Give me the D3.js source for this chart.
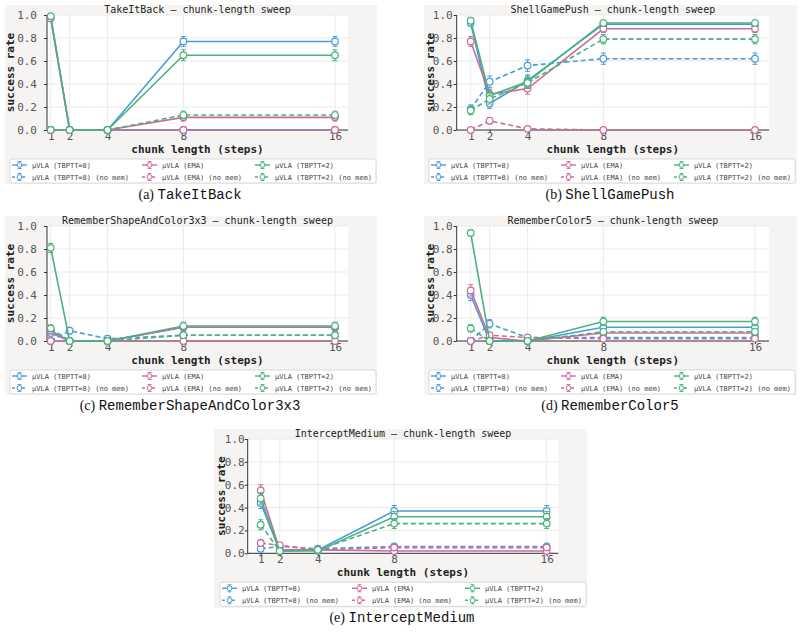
<!DOCTYPE html>
<html><head><meta charset="utf-8">
<title>chunk-length sweep</title>
<script src="https://cdn.jsdelivr.net/npm/d3@7/dist/d3.min.js"></script>
<style>
  body { margin: 0; background: #fff; }
  svg { display: block; }
  .mono { font-family: "DejaVu Sans Mono", monospace; }
</style>
</head>
<body>
<svg id="fig" width="802" height="633"></svg>
<script>
// data: success rate per chunk length, series order = SERIES
var CHUNK = [1, 2, 4, 8, 16];
var SERIES = ["\u03bcVLA (TBPTT=8)", "\u03bcVLA (TBPTT=8) (no mem)", "\u03bcVLA (EMA)",
              "\u03bcVLA (EMA) (no mem)", "\u03bcVLA (TBPTT=2)", "\u03bcVLA (TBPTT=2) (no mem)"];
var COLORS = ["#4a9bdc", "#4a9bdc", "#cc6a9e", "#cc6a9e", "#4bb27c", "#4bb27c"];
var DASHED = [false, true, false, true, false, true];
var N_EPISODES = 100; // error bars = binomial standard error

var takeItBack = [
  [0.98, 0.00, 0.00, 0.77, 0.77],
  [0.00, 0.00, 0.00, 0.00, 0.00],
  [0.97, 0.00, 0.00, 0.11, 0.11],
  [0.00, 0.00, 0.00, 0.00, 0.00],
  [0.99, 0.00, 0.00, 0.65, 0.65],
  [0.00, 0.00, 0.00, 0.13, 0.13]
];
var shellGamePush = [
  [0.93, 0.23, 0.43, 0.92, 0.92],
  [0.18, 0.42, 0.56, 0.62, 0.62],
  [0.77, 0.31, 0.36, 0.88, 0.88],
  [0.00, 0.08, 0.01, 0.00, 0.00],
  [0.95, 0.30, 0.42, 0.93, 0.93],
  [0.17, 0.27, 0.41, 0.79, 0.79]
];
var rememberShapeAndColor3x3 = [
  [0.07, 0.00, 0.00, 0.12, 0.12],
  [0.00, 0.09, 0.02, 0.05, 0.05],
  [0.09, 0.00, 0.00, 0.12, 0.12],
  [0.00, 0.00, 0.00, 0.00, 0.00],
  [0.81, 0.00, 0.00, 0.13, 0.13],
  [0.11, 0.00, 0.00, 0.05, 0.05]
];
var rememberColor5 = [
  [0.40, 0.00, 0.00, 0.12, 0.12],
  [0.00, 0.15, 0.03, 0.03, 0.03],
  [0.44, 0.03, 0.00, 0.07, 0.07],
  [0.00, 0.05, 0.03, 0.02, 0.02],
  [0.94, 0.00, 0.00, 0.17, 0.17],
  [0.11, 0.00, 0.00, 0.08, 0.08]
];
var interceptMedium = [
  [0.44, 0.02, 0.03, 0.37, 0.37],
  [0.04, 0.06, 0.04, 0.06, 0.06],
  [0.55, 0.03, 0.03, 0.02, 0.02],
  [0.09, 0.07, 0.03, 0.05, 0.05],
  [0.48, 0.02, 0.02, 0.32, 0.32],
  [0.25, 0.02, 0.03, 0.26, 0.26]
];
var Y_TICKS = [0, 0.2, 0.4, 0.6, 0.8, 1.0];

// panel layout (pixels in the figure)
var panels = [
  {letter: "a", task: "TakeItBack", data: takeItBack,
   bg: [5, 5, 372, 179], l: 47, r: 348, t: 15, b: 130, x1: 50.7, x16: 335,
   tickGap: 10, ylabX: 10, legX: 10, capX: 190},
  {letter: "b", task: "ShellGamePush", data: shellGamePush,
   bg: [424, 5, 373, 179], l: 456.7, r: 769, t: 15, b: 130, x1: 470.7, x16: 755,
   tickGap: 4, ylabX: 430, legX: 429, capX: 610},
  {letter: "c", task: "RememberShapeAndColor3x3", data: rememberShapeAndColor3x3,
   bg: [5, 216, 372, 179], l: 47, r: 348, t: 226, b: 341, x1: 50.7, x16: 335,
   tickGap: 10, ylabX: 10, legX: 10, capX: 190},
  {letter: "d", task: "RememberColor5", data: rememberColor5,
   bg: [424, 216, 373, 179], l: 456.7, r: 769, t: 226, b: 341, x1: 470.7, x16: 755,
   tickGap: 4, ylabX: 430, legX: 429, capX: 610},
  {letter: "e", task: "InterceptMedium", data: interceptMedium,
   bg: [214, 429, 373, 179], l: 247.7, r: 558.3, t: 439, b: 553.3, x1: 260.7, x16: 546.7,
   tickGap: 3, ylabX: 220.5, legX: 220, capX: 402}
];

var svg = d3.select("#fig");
svg.append("rect").attr("width", 802).attr("height", 633).attr("fill", "#fff");

function stderr(p) { return Math.sqrt(p * (1 - p) / N_EPISODES); }

panels.forEach(function(P) {
  var g = svg.append("g");
  g.append("rect")
    .attr("x", P.bg[0]).attr("y", P.bg[1]).attr("width", P.bg[2]).attr("height", P.bg[3])
    .attr("fill", "#f5f4f2");
  g.append("rect")
    .attr("x", P.l).attr("y", P.t).attr("width", P.r - P.l).attr("height", P.b - P.t)
    .attr("fill", "#fff");

  // linear x scale, domain derived from where ticks 1 and 16 land
  var unit = (P.x16 - P.x1) / 15;
  var x = d3.scaleLinear()
    .domain([1 - (P.x1 - P.l) / unit, 16 + (P.r - P.x16) / unit])
    .range([P.l, P.r]);
  var y = d3.scaleLinear().domain([0, 1]).range([P.b, P.t]);

  // grid
  g.append("g").selectAll("line").data(Y_TICKS).enter().append("line")
    .attr("x1", P.l).attr("x2", P.r)
    .attr("y1", function(d){ return y(d); }).attr("y2", function(d){ return y(d); })
    .attr("stroke", "#e6e6e6").attr("stroke-width", 0.8);
  g.append("g").selectAll("line").data(CHUNK).enter().append("line")
    .attr("y1", P.t).attr("y2", P.b)
    .attr("x1", function(d){ return x(d); }).attr("x2", function(d){ return x(d); })
    .attr("stroke", "#e6e6e6").attr("stroke-width", 0.8);

  // axes
  var yAxis = d3.axisLeft(y).tickValues(Y_TICKS).tickFormat(d3.format(".1f"))
    .tickSize(3).tickPadding(P.tickGap - 3);
  var xAxis = d3.axisBottom(x).tickValues(CHUNK).tickFormat(d3.format("d"))
    .tickSize(3).tickPadding(-1);
  var ya = g.append("g").attr("transform", "translate(" + P.l + ",0)").call(yAxis);
  var xa = g.append("g").attr("transform", "translate(0," + P.b + ")").call(xAxis);
  [ya, xa].forEach(function(a) {
    a.select(".domain").attr("stroke", "#333").attr("stroke-width", 1);
    a.selectAll(".tick line").attr("stroke", "#333");
    a.selectAll("text").attr("class", "mono").attr("font-size", 11).attr("fill", "#555");
  });
  ya.select(".domain").attr("d", "M0," + P.b + "V" + P.t);
  xa.select(".domain").attr("d", "M" + P.l + ",0H" + P.r);

  // series
  var line = d3.line().x(function(d){ return x(d[0]); }).y(function(d){ return y(d[1]); });
  P.data.forEach(function(vals, si) {
    var pts = CHUNK.map(function(c, i){ return [c, vals[i]]; });
    var sg = g.append("g").attr("stroke", COLORS[si]);
    sg.append("path").attr("d", line(pts)).attr("fill", "none")
      .attr("stroke-width", 1.6)
      .attr("stroke-dasharray", DASHED[si] ? "5,3" : null);
    pts.forEach(function(p) {
      var e = stderr(p[1]);
      if (e > 0.001) {
        var y0 = y(Math.max(0, p[1] - e)), y1 = y(Math.min(1, p[1] + e)), cx = x(p[0]);
        sg.append("path").attr("fill", "none").attr("stroke-width", 1)
          .attr("d", "M" + cx + "," + y0 + "V" + y1 +
                     "M" + (cx - 2.5) + "," + y0 + "H" + (cx + 2.5) +
                     "M" + (cx - 2.5) + "," + y1 + "H" + (cx + 2.5));
      }
      sg.append("circle").attr("cx", x(p[0])).attr("cy", y(p[1])).attr("r", 3.3)
        .attr("fill", "#fff").attr("stroke-width", 1.2);
    });
  });

  // labels
  var cx = (P.l + P.r) / 2;
  g.append("text").attr("class", "mono").attr("x", cx).attr("y", P.t - 2)
    .attr("text-anchor", "middle").attr("font-size", 10)
    .attr("fill", "#222").text(P.task + " \u2014 chunk-length sweep");
  g.append("text").attr("class", "mono").attr("x", cx).attr("y", P.b + 23)
    .attr("text-anchor", "middle").attr("font-size", 11).attr("font-weight", "bold")
    .attr("fill", "#222").text("chunk length (steps)");
  g.append("text").attr("class", "mono")
    .attr("transform", "translate(" + (P.ylabX + 4) + "," + ((P.t + P.b) / 2) + ") rotate(-90)")
    .attr("text-anchor", "middle").attr("font-size", 11).attr("font-weight", "bold")
    .attr("fill", "#222").text("success rate");

  // legend
  var lg = g.append("g").attr("transform", "translate(" + P.legX + "," + (P.b + 29) + ")");
  lg.append("rect").attr("width", 366).attr("height", 24).attr("rx", 2)
    .attr("fill", "#fff").attr("stroke", "#d0d0d0").attr("stroke-width", 0.8);
  var colX = [2, 132, 245];
  SERIES.forEach(function(name, si) {
    var col = Math.floor(si / 2), row = si % 2;
    var hx = colX[col], hy = 6 + row * 12;
    var it = lg.append("g").attr("stroke", COLORS[si]);
    it.append("line").attr("x1", hx).attr("x2", hx + 15).attr("y1", hy).attr("y2", hy)
      .attr("stroke-width", 1.4).attr("stroke-dasharray", DASHED[si] ? "3,2" : null);
    it.append("path").attr("fill", "none").attr("stroke-width", 0.9)
      .attr("d", "M" + (hx + 7.5) + "," + (hy - 3.5) + "V" + (hy + 3.5) +
                 "M" + (hx + 5.5) + "," + (hy - 3.5) + "H" + (hx + 9.5) +
                 "M" + (hx + 5.5) + "," + (hy + 3.5) + "H" + (hx + 9.5));
    it.append("circle").attr("cx", hx + 7.5).attr("cy", hy).attr("r", 2.4)
      .attr("fill", "#fff").attr("stroke-width", 1);
    lg.append("text").attr("class", "mono").attr("x", hx + 20).attr("y", hy + 2.5)
      .attr("font-size", 7).attr("fill", "#444").text(name);
  });

  // caption
  var cap = svg.append("text").attr("x", P.capX).attr("y", P.b + 69)
    .attr("text-anchor", "middle").attr("font-size", 14).attr("fill", "#111");
  cap.append("tspan").attr("font-family", "'Liberation Serif', serif").text("(" + P.letter + ") ");
  cap.append("tspan").attr("font-family", "'Liberation Mono', monospace").text(P.task);
});
</script>
</body></html>
